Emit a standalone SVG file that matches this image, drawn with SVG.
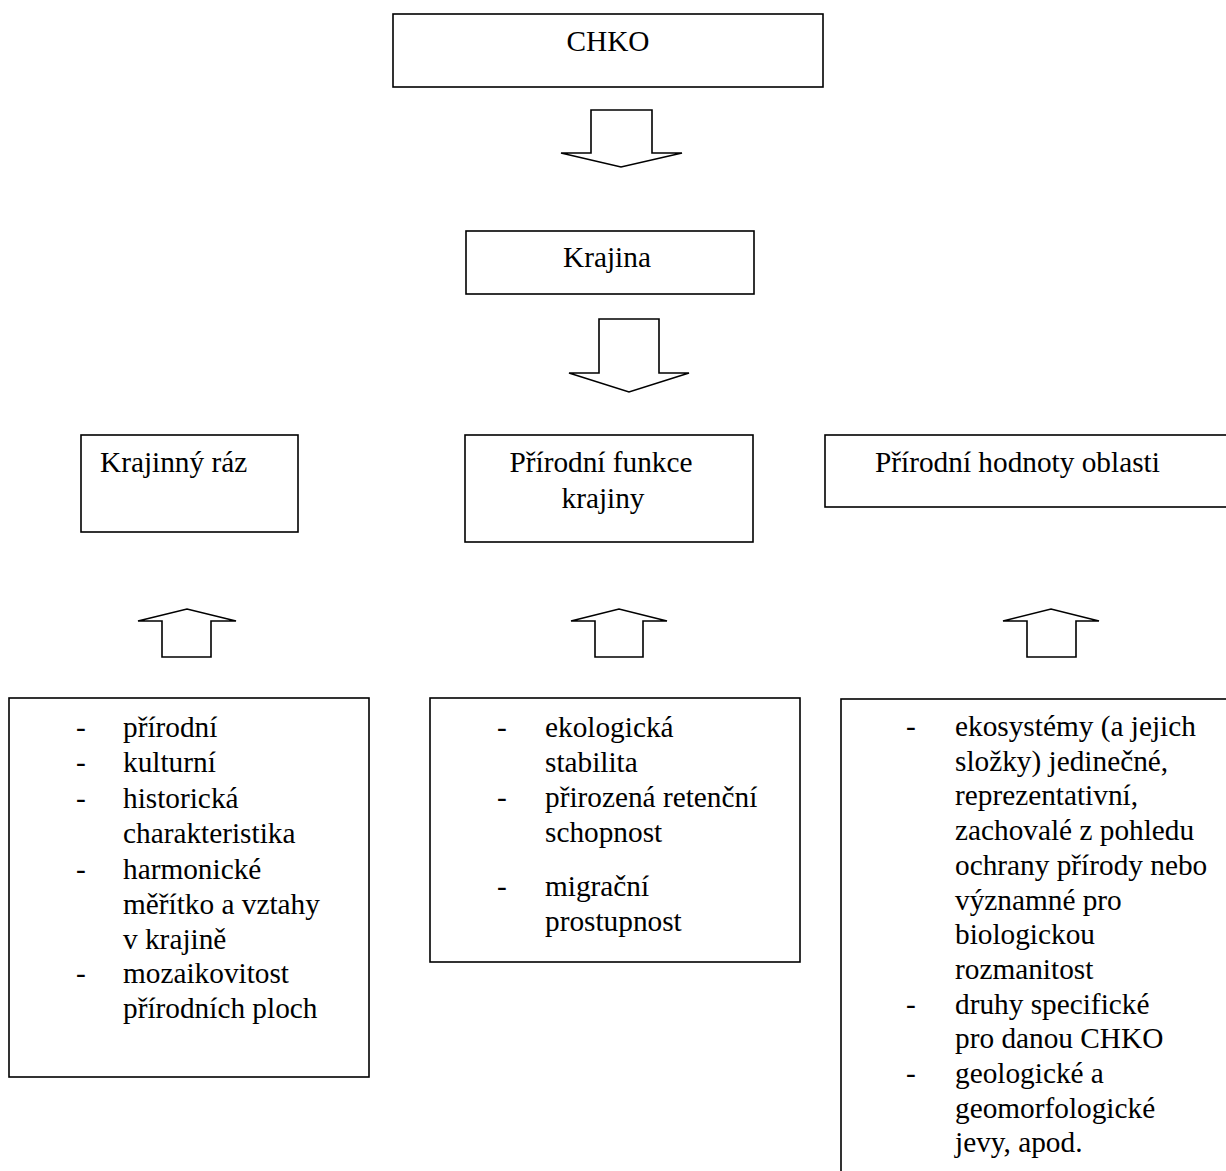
<svg xmlns="http://www.w3.org/2000/svg" width="1226" height="1171" viewBox="0 0 1226 1171">
<style>
.box{fill:#fff;stroke:#000;stroke-width:1.6}
.arr{fill:#fff;stroke:#000;stroke-width:1.6;stroke-linejoin:miter}
text{font-family:"Liberation Serif","Times New Roman",serif;font-size:29.3px;fill:#000}
.c{text-anchor:middle}
</style>
<rect width="1226" height="1171" fill="#fff"/>
<g id="connectors">
<polygon class="arr" points="591,110 652,110 652,153 682,153 621,167 561,153 591,153"/>
<polygon class="arr" points="599,319 659,319 659,373 689,373 629,392 569,373 599,373"/>
<polygon class="arr" points="162,657 211,657 211,621 236,621 187,609 138,621 162,621"/>
<polygon class="arr" points="595,657 643,657 643,621 667,621 619,609 571,621 595,621"/>
<polygon class="arr" points="1027,657 1076,657 1076,621 1099,621 1051,609 1003,621 1027,621"/>
</g>
<g id="chko">
<rect class="box" x="393" y="14" width="430" height="73"/>
<text class="c" x="608" y="51">CHKO</text>
</g>
<g id="krajina">
<rect class="box" x="466" y="231" width="288" height="63"/>
<text class="c" x="607" y="267">Krajina</text>
</g>
<g id="krajinny-raz">
<rect class="box" x="81" y="435" width="217" height="97"/>
<text x="100" y="472">Krajinný ráz</text>
</g>
<g id="prirodni-funkce">
<rect class="box" x="465" y="435" width="288" height="107"/>
<text class="c" x="601" y="472">Přírodní funkce</text>
<text class="c" x="603" y="508">krajiny</text>
</g>
<g id="prirodni-hodnoty">
<rect class="box" x="825" y="435" width="410" height="72"/>
<text x="875" y="472">Přírodní hodnoty oblasti</text>
</g>
<g id="list-raz">
<rect class="box" x="9" y="698" width="360" height="379"/>
<text x="76" y="737">-</text>
<text x="76" y="772">-</text>
<text x="76" y="808">-</text>
<text x="76" y="879">-</text>
<text x="76" y="983">-</text>
<text x="123" y="737">přírodní</text>
<text x="123" y="772">kulturní</text>
<text x="123" y="808">historická</text>
<text x="123" y="843">charakteristika</text>
<text x="123" y="879">harmonické</text>
<text x="123" y="914">měřítko a vztahy</text>
<text x="123" y="949">v krajině</text>
<text x="123" y="983">mozaikovitost</text>
<text x="123" y="1018">přírodních ploch</text>
</g>
<g id="list-funkce">
<rect class="box" x="430" y="698" width="370" height="264"/>
<text x="497" y="737">-</text>
<text x="497" y="807">-</text>
<text x="497" y="896">-</text>
<text x="545" y="737">ekologická</text>
<text x="545" y="772">stabilita</text>
<text x="545" y="807">přirozená retenční</text>
<text x="545" y="842">schopnost</text>
<text x="545" y="896">migrační</text>
<text x="545" y="931">prostupnost</text>
</g>
<g id="list-hodnoty">
<rect class="box" x="841" y="699" width="400" height="500"/>
<text x="906" y="736">-</text>
<text x="906" y="1013.6">-</text>
<text x="906" y="1083">-</text>
<text x="955" y="736">ekosystémy (a jejich</text>
<text x="955" y="770.7">složky) jedinečné,</text>
<text x="955" y="805.4">reprezentativní,</text>
<text x="955" y="840.1">zachovalé z pohledu</text>
<text x="955" y="874.8">ochrany přírody nebo</text>
<text x="955" y="909.5">významné pro</text>
<text x="955" y="944.2">biologickou</text>
<text x="955" y="978.9">rozmanitost</text>
<text x="955" y="1013.6">druhy specifické</text>
<text x="955" y="1048.3">pro danou CHKO</text>
<text x="955" y="1083">geologické a</text>
<text x="955" y="1117.7">geomorfologické</text>
<text x="955" y="1152.4">jevy, apod.</text>
</g>
</svg>
